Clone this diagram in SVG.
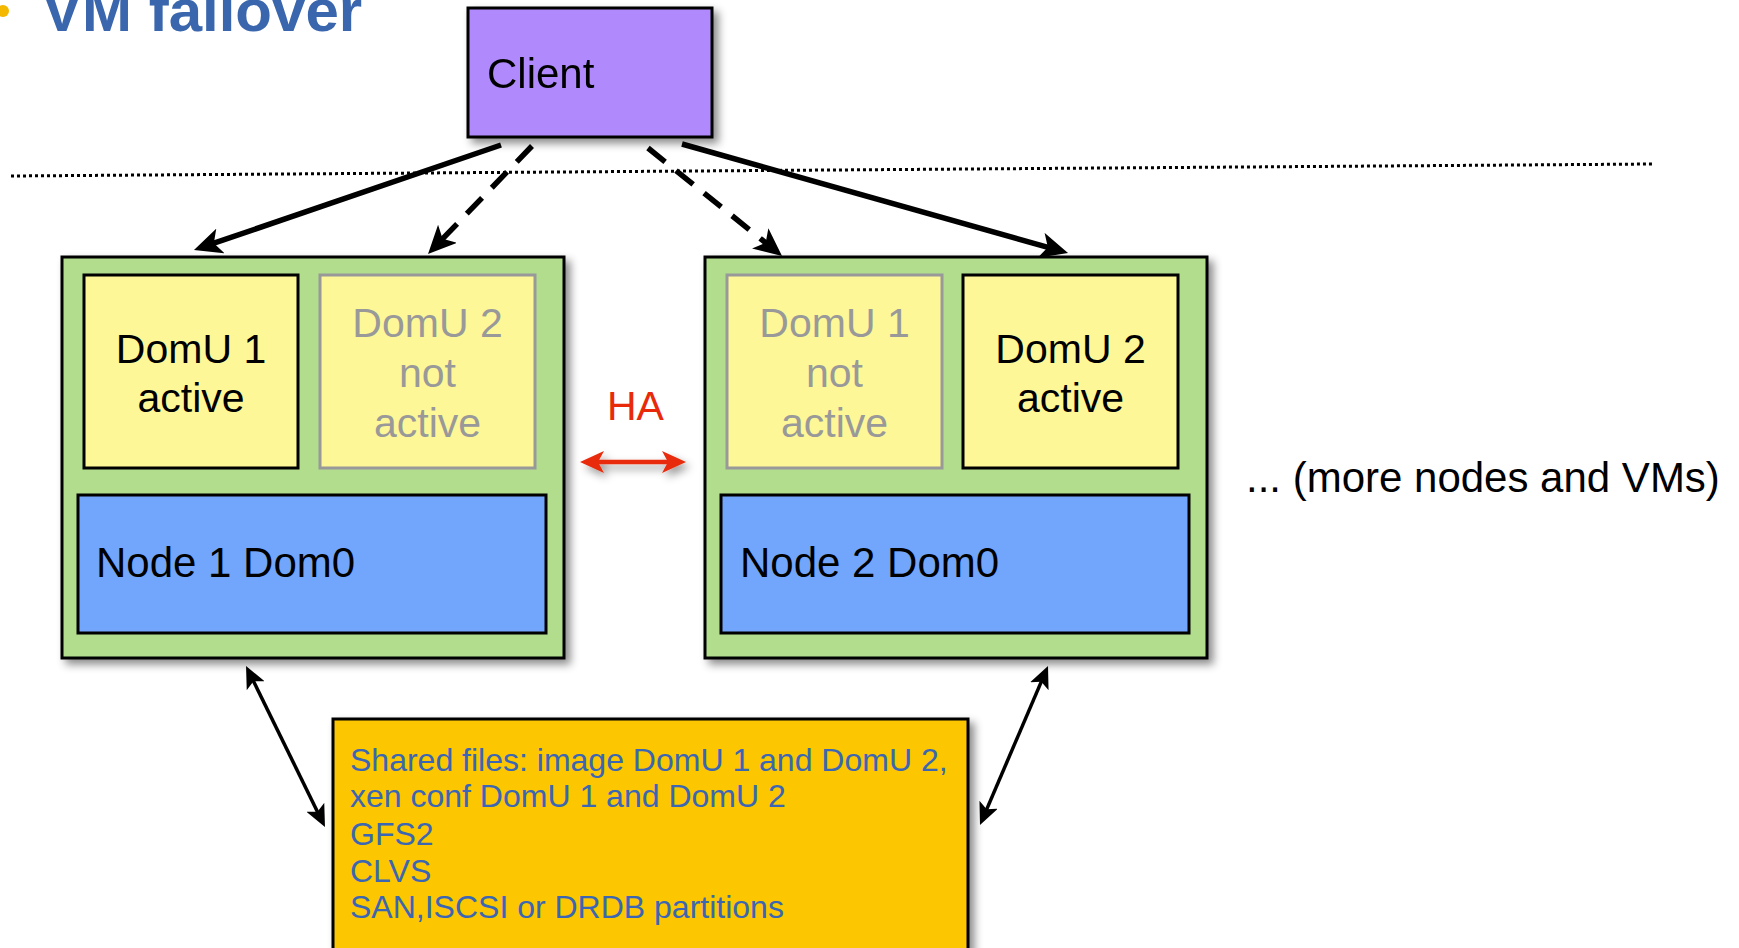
<svg xmlns="http://www.w3.org/2000/svg" width="1739" height="948" viewBox="0 0 1739 948">
<style>
text{font-family:"Liberation Sans",Arial,sans-serif}
.lbl{font-size:42px;fill:#000}
.dom{font-size:41px;text-anchor:middle}
.act{fill:#000}
.na{fill:#999}
.outer{fill:#b1dd8c;stroke:#000;stroke-width:3}
.dact{fill:#fdf797;stroke:#000;stroke-width:3}
.dna{fill:#fdf797;stroke:#999;stroke-width:3}
.dom0{fill:#72a6fc;stroke:#000;stroke-width:3}
.thick{stroke:#000;stroke-width:5.5;fill:none;marker-end:url(#ah)}
.dash{stroke-dasharray:22 14}
.thin{stroke:#000;stroke-width:3.5;fill:none;marker-start:url(#ahs);marker-end:url(#ahs)}
.shared{font-size:32px;fill:#3a66b3}
</style>
<defs>
<filter id="sh" x="-10%" y="-10%" width="130%" height="130%">
<feDropShadow dx="5" dy="5" stdDeviation="4" flood-color="#000" flood-opacity="0.45"/>
</filter>
<filter id="shu" filterUnits="userSpaceOnUse" x="560" y="430" width="150" height="70">
<feDropShadow dx="4" dy="5" stdDeviation="4" flood-color="#000" flood-opacity="0.4"/>
</filter>
<marker id="ah" viewBox="0 0 28 26" refX="10" refY="13" markerWidth="28" markerHeight="26" markerUnits="userSpaceOnUse" orient="auto">
<path d="M0,0 L28,13 L0,26 L7,13 z" fill="#000"/>
</marker>
<marker id="ahs" viewBox="0 0 22 20" refX="8" refY="10" markerWidth="22" markerHeight="20" markerUnits="userSpaceOnUse" orient="auto-start-reverse">
<path d="M0,0 L22,10 L0,20 L5,10 z" fill="#000"/>
</marker>
<marker id="ahr" viewBox="0 0 24 22" refX="9" refY="11" markerWidth="24" markerHeight="22" markerUnits="userSpaceOnUse" orient="auto-start-reverse">
<path d="M0,0 L24,11 L0,22 L6,11 z" fill="#e82a0a"/>
</marker>
</defs>
<rect width="1739" height="948" fill="#fff"/>

<g id="title">
<circle cx="3" cy="11" r="6" fill="#f5b800"/>
<text x="42" y="31" font-size="60" font-weight="bold" fill="#3a66ad">VM failover</text>
</g>

<line id="separator" x1="11" y1="176" x2="1653" y2="164" stroke="#000" stroke-width="3" stroke-dasharray="3 3"/>

<g id="client" filter="url(#sh)">
<rect x="468" y="8" width="244" height="129" fill="#b08afc" stroke="#000" stroke-width="3"/>
<text class="lbl" x="487" y="88">Client</text>
</g>

<g id="node1">
<rect class="outer" x="62" y="257" width="502" height="401" filter="url(#sh)"/>
<rect class="dact" x="84" y="275" width="214" height="193"/>
<text class="dom act" x="191" y="363">DomU 1</text>
<text class="dom act" x="191" y="412">active</text>
<rect class="dna" x="320" y="275" width="215" height="193"/>
<text class="dom na" x="427.5" y="337">DomU 2</text>
<text class="dom na" x="427.5" y="387">not</text>
<text class="dom na" x="427.5" y="437">active</text>
<rect class="dom0" x="78" y="495" width="468" height="138"/>
<text class="lbl" x="96" y="577">Node 1 Dom0</text>
</g>

<g id="node2">
<rect class="outer" x="705" y="257" width="502" height="401" filter="url(#sh)"/>
<rect class="dna" x="727" y="275" width="215" height="193"/>
<text class="dom na" x="834.5" y="337">DomU 1</text>
<text class="dom na" x="834.5" y="387">not</text>
<text class="dom na" x="834.5" y="437">active</text>
<rect class="dact" x="963" y="275" width="215" height="193"/>
<text class="dom act" x="1070.5" y="363">DomU 2</text>
<text class="dom act" x="1070.5" y="412">active</text>
<rect class="dom0" x="721" y="495" width="468" height="138"/>
<text class="lbl" x="740" y="577">Node 2 Dom0</text>
</g>

<g id="more">
<text class="lbl" x="1246" y="492">... (more nodes and VMs)</text>
</g>

<g id="shared">
<rect x="333" y="719" width="635" height="240" fill="#fcc600" stroke="#000" stroke-width="3" filter="url(#sh)"/>
<text class="shared" x="350" y="771">Shared files: image DomU 1 and DomU 2,</text>
<text class="shared" x="350" y="807">xen conf DomU 1 and DomU 2</text>
<text class="shared" x="350" y="845">GFS2</text>
<text class="shared" x="350" y="882">CLVS</text>
<text class="shared" x="350" y="918">SAN,ISCSI or DRDB partitions</text>
</g>

<g id="ha">
<text x="607" y="420" font-size="41" fill="#e82a0a">HA</text>
</g>

<g id="connectors">
<line class="thick" x1="501" y1="145" x2="211" y2="244.2"/>
<line class="thick dash" x1="532" y1="146" x2="440.5" y2="241"/>
<line class="thick dash" x1="648" y1="148" x2="768" y2="244.7"/>
<line class="thick" x1="682" y1="144" x2="1050.7" y2="248.1"/>
<line class="thin" x1="252.2" y1="678.6" x2="318.8" y2="814.4"/>
<line class="thin" x1="1042.5" y1="678.9" x2="985.5" y2="812.1"/>
<g filter="url(#shu)">
<line x1="595" y1="462" x2="671" y2="462" stroke="#e82a0a" stroke-width="4.5" marker-start="url(#ahr)" marker-end="url(#ahr)"/>
</g>
</g>
</svg>
